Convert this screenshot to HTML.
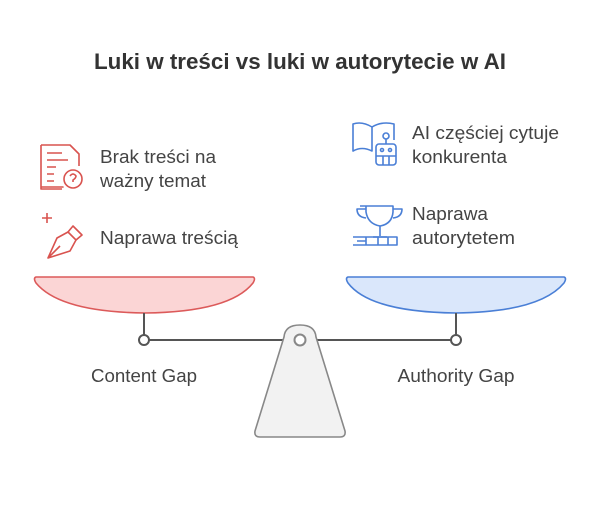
<!DOCTYPE html>
<html><head><meta charset="utf-8"><style>
body{margin:0;background:#fff;}
svg text{font-family:"Liberation Sans",sans-serif;}
</style></head><body>
<svg width="600" height="525" viewBox="0 0 600 525" xmlns="http://www.w3.org/2000/svg">
<rect width="600" height="525" fill="#fff"/>
<text x="300" y="69" text-anchor="middle" font-size="22" font-weight="bold" fill="#333" textLength="412" lengthAdjust="spacingAndGlyphs">Luki w treści vs luki w autorytecie w AI</text>

<!-- left icons -->
<g fill="none" stroke="#d9534f" stroke-width="1.6" stroke-linejoin="round">
<path d="M41 145 H70 L79 154 V166 M63 187 H41 Z M41 145 V189 H62"/>
<path d="M47 153 H62 M47 160 H68 M47 167 H56 M47 174 H54 M47 181 H54"/>
<circle cx="73" cy="179" r="9"/>
<path d="M70 176 Q73 172 76 176 Q76 178 73 180 V182"/>
<path d="M42 218 H52 M47 213 V223"/>
<path d="M48 258 L57 238 L68 232 L76 240 L70 251 Z M48 258 L60 246"/>
<path d="M68 232 L73 226 L82 235 L76 240"/>
</g>
<g font-size="18" fill="#444">
<text x="100" y="163" textLength="116" lengthAdjust="spacingAndGlyphs">Brak treści na</text>
<text x="100" y="187" textLength="106" lengthAdjust="spacingAndGlyphs">ważny temat</text>
<text x="100" y="244" textLength="138" lengthAdjust="spacingAndGlyphs">Naprawa treścią</text>
</g>

<!-- right icons -->
<g fill="none" stroke="#4a7fd6" stroke-width="1.6" stroke-linejoin="round">
<path d="M353 124 Q362 121 372 127 V151 Q362 146 353 151 Z"/>
<path d="M372 127 Q382 121 394 124 V140"/>
<circle cx="386" cy="136" r="3"/>
<path d="M386 139 V144"/>
<rect x="376" y="144" width="20" height="21" rx="3"/>
<path d="M376 156 H396 M383 156 V165 M389 156 V165"/>
<circle cx="382" cy="150" r="1.5"/><circle cx="390" cy="150" r="1.5"/>
<path d="M360 206 H393 V212 Q392 224 380 226 Q368 224 366 212 V206"/>
<path d="M366 209 H357 Q357 217 366 218 M393 209 H402 Q402 217 393 218"/>
<path d="M380 226 V236 M373 237 H387"/>
<path d="M353 237 H397 V245 H353 M357 241 H366 M366 237 V245 M378 237 V245 M388 237 V245 M397 237 V245"/>
</g>
<g font-size="18" fill="#444">
<text x="412" y="139" textLength="147" lengthAdjust="spacingAndGlyphs">AI częściej cytuje</text>
<text x="412" y="163" textLength="95" lengthAdjust="spacingAndGlyphs">konkurenta</text>
<text x="412" y="220" textLength="76" lengthAdjust="spacingAndGlyphs">Naprawa</text>
<text x="412" y="244" textLength="103" lengthAdjust="spacingAndGlyphs">autorytetem</text>
</g>

<!-- pans -->
<path d="M36 277 H253 Q256 278 253 283 Q230 312 145 313 Q60 312 36 283 Q33 278 36 277 Z" fill="#fbd5d5" stroke="#dc5a5a" stroke-width="1.6"/>
<path d="M348 277 H564 Q567 278 564 283 Q540 312 456 313 Q370 312 348 283 Q345 278 348 277 Z" fill="#dae7fb" stroke="#4a7fd6" stroke-width="1.6"/>
<g stroke="#555" stroke-width="2" fill="#fff">
<line x1="144" y1="313" x2="144" y2="335"/>
<line x1="456" y1="313" x2="456" y2="335"/>
<line x1="149" y1="340" x2="451" y2="340"/>
</g>
<path d="M284 337 Q285 325 300 325 Q315 325 316 337 L345 431 Q346 437 340 437 H260 Q254 437 255 431 Z" fill="#f2f2f2" stroke="#888" stroke-width="1.6"/>
<g stroke="#555" stroke-width="2" fill="#fff">
<circle cx="144" cy="340" r="5"/>
<circle cx="456" cy="340" r="5"/>
<circle cx="300" cy="340" r="5.5" stroke="#888"/>
</g>
<g font-size="18" fill="#444" text-anchor="middle">
<text x="144" y="382" textLength="106" lengthAdjust="spacingAndGlyphs">Content Gap</text>
<text x="456" y="382" textLength="117" lengthAdjust="spacingAndGlyphs">Authority Gap</text>
</g>
</svg>
</body></html>
